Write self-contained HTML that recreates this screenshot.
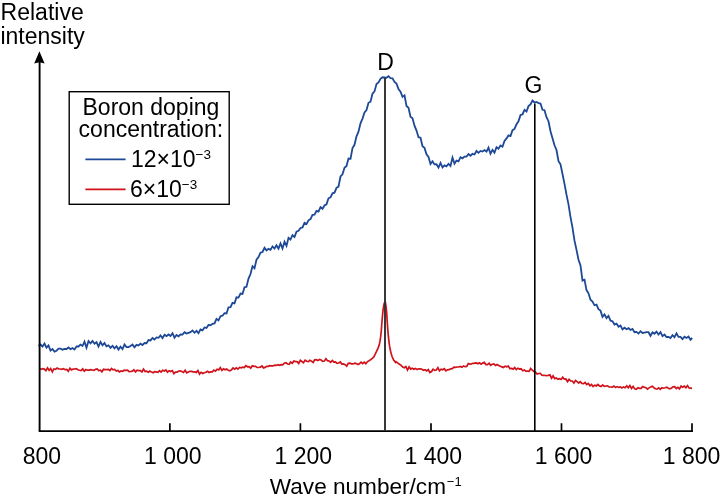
<!DOCTYPE html>
<html><head><meta charset="utf-8">
<style>
html,body{margin:0;padding:0;background:#fff;}
body{width:721px;height:502px;overflow:hidden;}
svg{display:block;font-family:"Liberation Sans",sans-serif;will-change:transform;}
</style></head><body>
<svg width="721" height="502" viewBox="0 0 721 502">
<rect width="721" height="502" fill="#fff"/>
<g fill="#000" font-size="23">
<text x="0.6" y="20">Relative</text>
<text x="0.4" y="43.8">intensity</text>
<text x="41.9" y="463.5" text-anchor="middle">800</text>
<text x="172.8" y="463.5" text-anchor="middle">1 000</text>
<text x="303.4" y="463.5" text-anchor="middle">1 200</text>
<text x="433.4" y="463.5" text-anchor="middle">1 400</text>
<text x="563.6" y="463.5" text-anchor="middle">1 600</text>
<text x="691.5" y="463.5" text-anchor="middle">1 800</text>
<text x="269.8" y="493.8" font-size="22.6">Wave number/cm<tspan font-size="13" dy="-8" dx="0.8">−1</tspan></text>
<text x="385.5" y="70.4" text-anchor="middle">D</text>
<text x="533.4" y="92.8" text-anchor="middle">G</text>
</g>
<path d="M38.5 345.9 L40.5 344.5 L42.5 346.5 L44.5 343.5 L46.5 347.7 L48.5 345.5 L50.5 350.6 L52.5 349.0 L54.5 351.6 L56.5 350.7 L58.5 348.7 L60.5 348.7 L62.5 349.7 L64.5 348.9 L66.5 349.0 L68.5 347.5 L70.5 349.2 L72.5 348.1 L74.5 349.4 L76.5 346.5 L78.5 346.5 L80.5 344.6 L82.5 346.0 L84.5 341.6 L86.5 347.7 L88.5 341.0 L90.5 343.4 L92.5 341.0 L94.5 343.8 L96.5 342.1 L98.5 346.6 L100.5 342.0 L102.5 345.3 L104.5 343.1 L106.5 346.4 L108.5 345.3 L110.5 347.8 L112.5 345.8 L114.5 348.4 L116.5 346.2 L118.5 349.5 L120.5 346.7 L122.5 349.0 L124.5 344.5 L126.5 347.0 L128.5 347.1 L130.5 346.0 L132.5 344.6 L134.5 347.3 L136.5 344.9 L138.5 345.5 L140.5 343.7 L142.5 345.1 L144.5 343.0 L146.5 343.2 L148.5 340.0 L150.5 340.4 L152.5 338.0 L154.5 339.5 L156.5 337.4 L158.5 337.8 L160.5 335.4 L162.5 338.1 L164.5 334.8 L166.5 336.1 L168.5 334.5 L170.5 336.0 L172.5 333.2 L174.5 337.7 L176.5 335.0 L178.5 336.3 L180.5 334.5 L182.5 334.6 L184.5 332.2 L186.5 333.6 L188.5 332.8 L190.5 332.1 L192.5 330.4 L194.5 332.8 L196.5 330.9 L198.5 333.1 L200.5 329.4 L202.5 330.3 L204.5 327.4 L206.5 327.9 L208.5 324.9 L210.5 325.2 L212.5 323.8 L214.5 323.4 L216.5 318.9 L218.5 320.4 L220.5 316.2 L222.5 315.7 L224.5 313.2 L226.5 313.5 L228.5 307.3 L230.5 307.1 L232.5 302.8 L234.5 303.3 L236.5 297.3 L238.5 297.6 L240.5 293.6 L242.5 294.0 L244.5 287.3 L246.5 286.8 L248.5 278.6 L250.5 274.0 L252.5 266.3 L254.5 268.2 L256.5 259.7 L258.5 257.1 L260.5 252.7 L262.5 252.0 L264.5 247.8 L266.5 250.4 L268.5 248.9 L270.5 249.9 L272.5 246.4 L274.5 248.5 L276.5 245.2 L278.5 248.6 L280.5 243.4 L282.5 248.4 L284.5 241.7 L286.5 245.9 L288.5 237.8 L290.5 239.5 L292.5 235.2 L294.5 236.9 L296.5 231.6 L298.5 230.8 L300.5 228.0 L302.5 227.4 L304.5 222.9 L306.5 224.1 L308.5 220.3 L310.5 219.1 L312.5 214.8 L314.5 214.6 L316.5 210.8 L318.5 211.6 L320.5 207.1 L322.5 208.8 L324.5 205.5 L326.5 204.4 L328.5 198.3 L330.5 197.3 L332.5 193.3 L334.5 192.7 L336.5 187.8 L338.5 186.6 L340.5 176.5 L342.5 174.3 L344.5 167.8 L346.5 165.9 L348.5 158.5 L350.5 158.8 L352.5 148.0 L354.5 144.8 L356.5 136.3 L358.5 131.7 L360.5 123.3 L362.5 118.6 L364.5 112.4 L366.5 110.1 L368.5 102.8 L370.5 101.7 L372.5 93.7 L374.5 91.4 L376.5 84.0 L378.5 82.4 L380.5 78.9 L382.5 77.3 L384.5 77.5 L386.5 77.8 L388.5 76.1 L390.5 78.1 L392.5 78.3 L394.5 81.9 L396.5 83.6 L398.5 89.0 L400.5 91.6 L402.5 96.9 L404.5 95.4 L406.5 106.0 L408.5 107.8 L410.5 116.7 L412.5 118.2 L414.5 125.7 L416.5 130.6 L418.5 137.2 L420.5 137.7 L422.5 146.3 L424.5 147.9 L426.5 154.3 L428.5 157.0 L430.5 164.0 L432.5 161.3 L434.5 164.4 L436.5 164.3 L438.5 167.5 L440.5 163.0 L442.5 167.4 L444.5 165.4 L446.5 166.4 L448.5 163.8 L450.5 166.0 L452.5 157.5 L454.5 163.7 L456.5 160.6 L458.5 161.3 L460.5 157.2 L462.5 158.3 L464.5 156.6 L466.5 156.5 L468.5 154.0 L470.5 155.7 L472.5 153.8 L474.5 154.5 L476.5 151.0 L478.5 152.8 L480.5 150.9 L482.5 151.5 L484.5 150.1 L486.5 151.7 L488.5 147.6 L490.5 153.7 L492.5 149.9 L494.5 152.6 L496.5 147.2 L498.5 148.7 L500.5 145.5 L502.5 146.7 L504.5 140.9 L506.5 138.4 L508.5 135.4 L510.5 136.1 L512.5 130.2 L514.5 128.9 L516.5 124.3 L518.5 121.3 L520.5 115.0 L522.5 114.4 L524.5 109.9 L526.5 111.5 L528.5 106.1 L530.5 104.4 L532.5 100.5 L534.5 102.5 L536.5 102.0 L538.5 103.1 L540.5 103.5 L542.5 109.8 L544.5 110.2 L546.5 117.2 L548.5 121.2 L550.5 131.2 L552.5 138.2 L554.5 145.3 L556.5 150.0 L558.5 161.1 L560.5 164.4 L562.5 174.0 L564.5 183.9 L566.5 194.7 L568.5 204.3 L570.5 217.1 L572.5 227.6 L574.5 240.7 L576.5 249.9 L578.5 259.7 L580.5 265.5 L582.5 280.6 L584.5 279.7 L586.5 290.1 L588.5 293.3 L590.5 299.7 L592.5 301.5 L594.5 305.3 L596.5 304.7 L598.5 309.2 L600.5 310.6 L602.5 316.8 L604.5 314.4 L606.5 318.1 L608.5 315.9 L610.5 320.7 L612.5 321.2 L614.5 324.5 L616.5 323.6 L618.5 326.8 L620.5 325.5 L622.5 329.4 L624.5 327.7 L626.5 329.2 L628.5 328.1 L630.5 330.0 L632.5 328.9 L634.5 332.2 L636.5 331.9 L638.5 333.6 L640.5 331.2 L642.5 333.0 L644.5 332.6 L646.5 332.2 L648.5 332.2 L650.5 335.8 L652.5 332.3 L654.5 333.7 L656.5 331.6 L658.5 334.5 L660.5 332.2 L662.5 336.1 L664.5 334.6 L666.5 337.0 L668.5 337.0 L670.5 338.1 L672.5 335.1 L674.5 337.2 L676.5 333.4 L678.5 336.9 L680.5 336.9 L682.5 339.1 L684.5 336.7 L686.5 338.0 L688.5 336.5 L690.5 339.7 L692.2 338.0" fill="none" stroke="#1c4896" stroke-width="1.8" stroke-linejoin="miter"/>
<path d="M39.5 368.4 L41.1 369.4 L42.7 368.6 L44.3 369.1 L45.9 370.6 L47.5 367.8 L49.1 370.3 L50.7 368.5 L52.3 371.8 L53.9 368.9 L55.5 369.3 L57.1 368.0 L58.7 369.0 L60.3 369.0 L61.9 369.4 L63.5 368.8 L65.1 369.7 L66.7 369.5 L68.3 371.3 L69.9 368.2 L71.5 369.9 L73.1 369.1 L74.7 369.0 L76.3 368.7 L77.9 369.7 L79.5 370.2 L81.1 370.6 L82.7 368.9 L84.3 371.2 L85.9 369.6 L87.5 370.2 L89.1 370.1 L90.7 369.7 L92.3 370.0 L93.9 370.4 L95.5 369.2 L97.1 368.9 L98.7 370.5 L100.3 370.2 L101.9 371.8 L103.5 369.3 L105.1 369.6 L106.7 369.6 L108.3 369.3 L109.9 370.5 L111.5 368.4 L113.1 369.8 L114.7 369.5 L116.3 371.1 L117.9 370.5 L119.5 371.9 L121.1 370.9 L122.7 371.3 L124.3 370.2 L125.9 370.3 L127.5 370.1 L129.1 371.7 L130.7 371.5 L132.3 371.1 L133.9 369.8 L135.5 371.9 L137.1 370.2 L138.7 370.6 L140.3 370.7 L141.9 372.0 L143.5 369.1 L145.1 371.5 L146.7 371.2 L148.3 372.2 L149.9 371.1 L151.5 372.1 L153.1 372.8 L154.7 371.7 L156.3 371.9 L157.9 372.3 L159.5 370.6 L161.1 372.1 L162.7 370.2 L164.3 371.0 L165.9 370.0 L167.5 372.2 L169.1 370.7 L170.7 371.5 L172.3 370.6 L173.9 373.6 L175.5 372.2 L177.1 372.1 L178.7 371.0 L180.3 370.9 L181.9 371.5 L183.5 372.4 L185.1 370.2 L186.7 372.8 L188.3 372.0 L189.9 371.3 L191.5 371.4 L193.1 371.9 L194.7 371.9 L196.3 372.4 L197.9 370.5 L199.5 374.1 L201.1 372.3 L202.7 373.5 L204.3 372.8 L205.9 372.3 L207.5 371.3 L209.1 372.5 L210.7 371.9 L212.3 371.9 L213.9 370.1 L215.5 371.2 L217.1 369.3 L218.7 369.9 L220.3 367.6 L221.9 370.4 L223.5 368.8 L225.1 369.8 L226.7 369.0 L228.3 370.3 L229.9 370.9 L231.5 369.9 L233.1 367.9 L234.7 369.2 L236.3 367.9 L237.9 369.2 L239.5 367.4 L241.1 367.8 L242.7 367.1 L244.3 367.6 L245.9 365.6 L247.5 366.8 L249.1 366.6 L250.7 368.2 L252.3 365.8 L253.9 366.3 L255.5 366.4 L257.1 367.4 L258.7 367.5 L260.3 367.1 L261.9 366.0 L263.5 367.9 L265.1 367.4 L266.7 366.3 L268.3 366.3 L269.9 365.7 L271.5 365.8 L273.1 365.9 L274.7 365.1 L276.3 365.4 L277.9 364.6 L279.5 365.3 L281.1 364.7 L282.7 364.8 L284.3 363.2 L285.9 362.7 L287.5 364.0 L289.1 364.3 L290.7 362.0 L292.3 363.3 L293.9 361.0 L295.5 361.6 L297.1 361.6 L298.7 363.4 L300.3 360.3 L301.9 361.5 L303.5 362.7 L305.1 360.1 L306.7 361.2 L308.3 361.6 L309.9 360.3 L311.5 361.1 L313.1 362.4 L314.7 359.8 L316.3 359.7 L317.9 360.6 L319.5 359.5 L321.1 360.0 L322.7 361.4 L324.3 361.1 L325.9 358.7 L327.5 360.7 L329.1 361.0 L330.7 362.3 L332.3 360.5 L333.9 362.2 L335.5 362.0 L337.1 363.3 L338.7 363.0 L340.3 362.0 L341.9 364.1 L343.5 363.9 L345.1 364.6 L346.7 366.1 L348.3 363.3 L349.9 363.1 L351.5 363.8 L353.1 363.9 L354.7 363.1 L356.3 363.6 L357.9 364.5 L359.5 363.7 L361.1 362.2 L362.7 363.6 L364.3 362.1 L365.9 363.7 L367.5 361.6 L369.1 360.8 L370.7 359.6 L372.3 358.4 L373.9 356.8 L374.0 356.7 L374.6 355.3 L375.2 354.1 L375.8 352.8 L376.4 351.7 L377.0 350.3 L377.6 349.2 L378.2 347.6 L378.8 346.2 L379.4 344.0 L380.0 341.2 L380.6 337.2 L381.2 332.0 L381.8 323.8 L382.4 316.8 L383.0 310.4 L383.6 306.3 L384.2 303.3 L384.8 302.3 L385.4 302.5 L386.0 306.4 L386.6 311.8 L387.2 321.1 L387.8 329.7 L388.4 336.7 L389.0 341.9 L389.6 346.4 L390.2 349.2 L390.8 352.1 L391.4 354.3 L392.0 356.2 L392.6 357.7 L393.2 359.2 L393.8 360.2 L394.4 360.9 L395.0 361.6 L395.6 362.5 L396.3 361.9 L397.9 363.1 L399.5 364.3 L401.1 365.4 L402.7 367.1 L404.3 367.7 L405.9 366.6 L407.5 370.0 L409.1 366.9 L410.7 369.1 L412.3 368.3 L413.9 369.3 L415.5 368.4 L417.1 369.6 L418.7 368.8 L420.3 368.9 L421.9 369.3 L423.5 370.3 L425.1 369.8 L426.7 370.9 L428.3 369.6 L429.9 372.5 L431.5 371.6 L433.1 369.3 L434.7 370.4 L436.3 370.0 L437.9 367.6 L439.5 370.8 L441.1 369.2 L442.7 369.8 L444.3 368.7 L445.9 370.8 L447.5 369.8 L449.1 369.7 L450.7 368.8 L452.3 368.6 L453.9 367.1 L455.5 367.3 L457.1 367.0 L458.7 367.0 L460.3 366.4 L461.9 367.3 L463.5 365.9 L465.1 366.7 L466.7 366.5 L468.3 363.5 L469.9 364.1 L471.5 363.9 L473.1 363.3 L474.7 363.1 L476.3 362.9 L477.9 363.8 L479.5 362.8 L481.1 364.2 L482.7 363.1 L484.3 362.4 L485.9 364.6 L487.5 364.7 L489.1 363.2 L490.7 365.3 L492.3 364.3 L493.9 363.9 L495.5 365.5 L497.1 364.5 L498.7 365.4 L500.3 366.3 L501.9 366.9 L503.5 367.5 L505.1 366.2 L506.7 366.8 L508.3 366.1 L509.9 368.5 L511.5 368.3 L513.1 369.1 L514.7 367.6 L516.3 369.6 L517.9 368.2 L519.5 369.1 L521.1 368.8 L522.7 370.7 L524.3 369.9 L525.9 371.2 L527.5 371.2 L529.1 371.4 L530.7 368.4 L532.3 370.2 L533.9 371.4 L535.5 372.1 L537.1 374.1 L538.7 373.5 L540.3 373.3 L541.9 375.2 L543.5 375.3 L545.1 375.5 L546.7 375.6 L548.3 375.4 L549.9 374.9 L551.5 378.2 L553.1 375.8 L554.7 378.6 L556.3 378.0 L557.9 379.3 L559.5 378.6 L561.1 379.4 L562.7 377.2 L564.3 379.2 L565.9 379.0 L567.5 381.7 L569.1 379.4 L570.7 381.0 L572.3 381.0 L573.9 383.1 L575.5 380.5 L577.1 381.6 L578.7 383.0 L580.3 381.6 L581.9 383.5 L583.5 383.7 L585.1 382.4 L586.7 384.6 L588.3 383.4 L589.9 385.8 L591.5 384.5 L593.1 386.6 L594.7 385.2 L596.3 385.9 L597.9 384.5 L599.5 385.9 L601.1 386.5 L602.7 384.9 L604.3 386.4 L605.9 386.0 L607.5 385.9 L609.1 386.9 L610.7 387.0 L612.3 387.2 L613.9 386.0 L615.5 387.5 L617.1 386.6 L618.7 387.4 L620.3 386.9 L621.9 387.9 L623.5 386.9 L625.1 387.7 L626.7 385.8 L628.3 387.8 L629.9 385.6 L631.5 388.4 L633.1 386.4 L634.7 388.9 L636.3 389.4 L637.9 387.7 L639.5 388.3 L641.1 388.4 L642.7 386.5 L644.3 387.2 L645.9 387.7 L647.5 389.1 L649.1 387.9 L650.7 386.9 L652.3 386.2 L653.9 387.7 L655.5 388.7 L657.1 389.1 L658.7 387.9 L660.3 389.3 L661.9 387.7 L663.5 388.2 L665.1 387.8 L666.7 387.2 L668.3 388.3 L669.9 388.9 L671.5 388.0 L673.1 386.9 L674.7 386.7 L676.3 388.5 L677.9 387.3 L679.5 388.8 L681.1 386.0 L682.7 387.3 L684.3 386.2 L685.9 387.7 L687.5 385.6 L689.1 388.0 L690.7 388.1 L692.0 388.3" fill="none" stroke="#d0121a" stroke-width="1.7" stroke-linejoin="miter"/>
<g stroke="#000" fill="none">
<path d="M39.6 431 V60" stroke-width="1.9"/>
<path d="M38.7 431.2 H692.8" stroke-width="1.7"/>
<path d="M169.9 431 V423.3 M300.4 431 V423.3 M431 431 V423.3 M561.5 431 V423.3 M692 432 V423.3" stroke-width="1.7"/>
<path d="M385 431 V78" stroke="#2f2f2f" stroke-width="1.9"/>
<path d="M534.8 431 V103.5" stroke-width="1.6"/>
</g>
<path d="M39.4 51.3 L34.2 63.6 L39.4 62.2 L44.6 63.6 Z" fill="#000"/>
<rect x="69.2" y="91.7" width="160" height="112.6" fill="#fff" stroke="#000" stroke-width="1.4"/>
<g font-size="23" fill="#000">
<text x="82.5" y="114.7">Boron doping</text>
<text x="78.6" y="137.3">concentration:</text>
<text x="131" y="166.5">12×10<tspan font-size="13.5" dy="-7.5">−3</tspan></text>
<text x="130" y="196.5">6×10<tspan font-size="13.5" dy="-7.5">−3</tspan></text>
</g>
<path d="M85.4 159.4 H125.6" stroke="#1c4896" stroke-width="1.6"/>
<path d="M85.4 189.4 H125.6" stroke="#d0121a" stroke-width="1.6"/>
</svg>
</body></html>
